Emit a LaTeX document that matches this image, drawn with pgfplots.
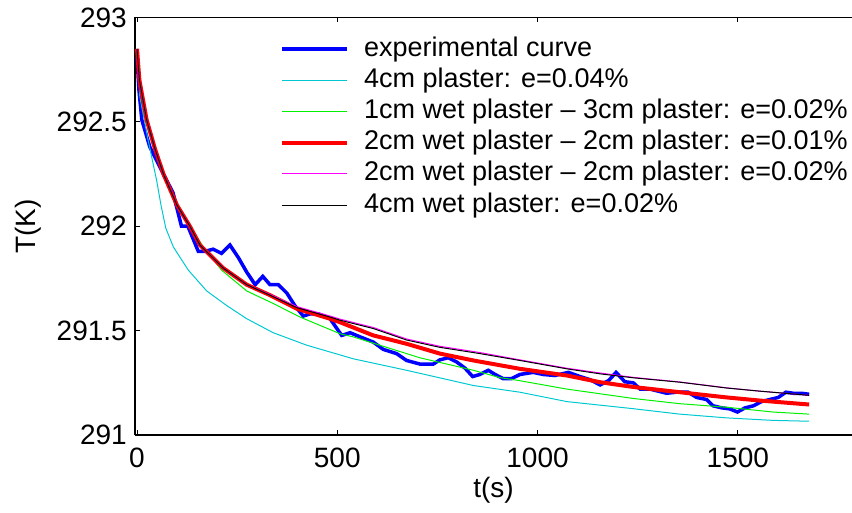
\documentclass[border=0pt]{standalone}
\usepackage{pgfplots}
\pgfplotsset{compat=1.18}
\usepackage{fontspec}
\setmainfont{Liberation Sans}
\definecolor{expblue}{RGB}{0,0,255}
\definecolor{mycyan}{RGB}{0,200,210}
\definecolor{mygreen}{RGB}{0,240,0}
\definecolor{myred}{RGB}{255,0,0}
\definecolor{mymag}{RGB}{255,0,255}
\begin{document}
\begin{tikzpicture}[x=1pt,y=1pt]
\begin{axis}[
  scale only axis,
  width=717pt, height=417.5pt,
  at={(0,0)}, anchor=south west,
  xmin=-5, xmax=1785,
  ymin=291, ymax=293,
  axis x line=box, axis y line=left,
  axis line style={line width=1.1pt, -},
  xtick={0,500,1000,1500},
  xticklabels={0,500,1000,1500},
  ytick={291,291.5,292,292.5,293},
  yticklabels={291,291.5,292,292.5,293},
  tick align=inside,
  major tick length=5pt,
  tick style={line width=0.8pt, black},
  xtick pos=both,
  ytick pos=left,
  ticklabel style={font=\fontsize{28}{33}\selectfont, inner sep=0pt},
  xticklabel style={anchor=north, yshift=-13pt},
  yticklabel style={anchor=east, xshift=-8pt},
  xlabel={t(s)}, ylabel={T(K)},
  label style={font=\fontsize{28}{33}\selectfont},
  xlabel style={at={(axis description cs:0.5,-0.1317)}, anchor=center},
  ylabel style={at={(axis description cs:-0.1492,0.5)}, anchor=center},
  legend cell align=left,
  legend image code/.code={\draw[#1] (0pt,0pt) -- (65pt,0pt);},
  legend style={at={(axis description cs:0.2022,0.9557)}, anchor=north west,
    draw=none, fill=none, inner sep=0pt, column sep=15pt, row sep=5.2pt,
    font=\fontsize{27}{32}\selectfont,
    nodes={inner sep=0pt, text height=20pt, text depth=6pt}},
  clip=true,
]
% experimental curve
\addplot[expblue, line width=3.5pt] coordinates {
(0,292.81) (5,292.65) (12,292.51) (32,292.38) (66,292.25) (90,292.16) (111,292.0) (127,292.0)
(153,291.88) (170,291.88) (190,291.89) (211,291.87) (232,291.91) (253,291.85) (274,291.78)
(295,291.72) (314,291.76) (332,291.72) (353,291.72) (374,291.68) (394,291.62) (415,291.57)
(432,291.58) (453,291.58) (482,291.557) (511,291.477) (532,291.49) (557,291.47) (590,291.445)
(615,291.41) (648,291.39) (673,291.357) (706,291.34) (740,291.34) (756,291.36) (777,291.37)
(798,291.35) (819,291.32) (838,291.28) (856,291.29) (877,291.31) (894,291.29) (914,291.27)
(935,291.27) (956,291.29) (989,291.30) (1014,291.29) (1043,291.285) (1077,291.30) (1106,291.28)
(1131,291.265) (1156,291.24) (1177,291.26) (1196,291.30) (1218,291.255) (1239,291.25)
(1256,291.22) (1281,291.22) (1301,291.21) (1322,291.20) (1347,291.205) (1376,291.205)
(1397,291.18) (1422,291.17) (1438,291.14) (1460,291.13) (1480,291.125) (1499,291.11)
(1518,291.13) (1539,291.14) (1559,291.16) (1580,291.17) (1601,291.18) (1620,291.205)
(1638,291.20) (1659,291.20) (1678,291.195)
};
\addlegendentry{experimental curve}
% 4cm plaster
\addplot[mycyan, line width=1pt] coordinates {
(0,292.85) (7,292.62) (28,292.41) (49,292.22) (60,292.10) (72,291.99) (91,291.90) (128,291.79)
(174,291.69) (224,291.62) (274,291.557) (340,291.49) (424,291.43) (540,291.365) (673,291.31)
(840,291.237) (956,291.205) (1073,291.16) (1239,291.126) (1355,291.10) (1472,291.082)
(1588,291.07) (1678,291.066)
};
\addlegendentry{4cm plaster: e=0.04\%}
% 1cm wet - 3cm plaster
\addplot[mygreen, line width=1pt] coordinates {
(0,292.85) (6,292.70) (24,292.51) (45,292.37) (66,292.25) (100,292.10) (132,292.0) (166,291.90)
(211,291.79) (274,291.69) (340,291.63) (407,291.565) (457,291.525) (507,291.485) (540,291.47)
(623,291.42) (706,291.37) (840,291.31) (906,291.275) (956,291.26) (1073,291.22) (1239,291.175)
(1355,291.15) (1472,291.133) (1588,291.11) (1678,291.10)
};
\addlegendentry{1cm wet plaster – 3cm plaster: e=0.02\%}
% 2cm wet - 2cm, 0.01
\addplot[myred, line width=4pt] coordinates {
(0,292.85) (6,292.70) (24,292.51) (45,292.37) (66,292.25) (100,292.10) (132,292.0) (157,291.91)
(215,291.80) (274,291.72) (332,291.67) (399,291.605) (482,291.557) (507,291.54) (590,291.477)
(673,291.437) (756,291.39) (840,291.357) (956,291.317) (1073,291.285) (1156,291.253)
(1239,291.23) (1355,291.205) (1472,291.18) (1555,291.165) (1678,291.146)
};
\addlegendentry{2cm wet plaster – 2cm plaster: e=0.01\%}
% 2cm wet - 2cm, 0.02
\addplot[mymag, line width=1pt] coordinates {
(0,292.85) (6,292.70) (24,292.51) (45,292.37) (66,292.25) (100,292.10) (132,292.0) (157,291.91)
(215,291.80) (274,291.72) (332,291.673) (399,291.615) (482,291.57) (507,291.555) (590,291.515)
(673,291.46) (756,291.425) (856,291.395) (956,291.36) (1073,291.32) (1156,291.297)
(1239,291.276) (1355,291.254) (1472,291.226) (1555,291.21) (1678,291.19)
};
\addlegendentry{2cm wet plaster – 2cm plaster: e=0.02\%}
% 4cm wet plaster
\addplot[black, line width=1pt] coordinates {
(0,292.85) (6,292.70) (24,292.51) (45,292.37) (66,292.25) (100,292.10) (132,292.0) (157,291.91)
(215,291.80) (274,291.72) (332,291.67) (399,291.61) (482,291.565) (507,291.55) (590,291.51)
(673,291.455) (756,291.42) (856,291.39) (956,291.357) (1073,291.317) (1156,291.293)
(1239,291.274) (1355,291.253) (1472,291.225) (1555,291.21) (1678,291.19)
};
\addlegendentry{4cm wet plaster: e=0.02\%}
\end{axis}
\pgfresetboundingbox
\path[use as bounding box] (-135pt,-77pt) rectangle (717pt,435pt);
\end{tikzpicture}
\end{document}
